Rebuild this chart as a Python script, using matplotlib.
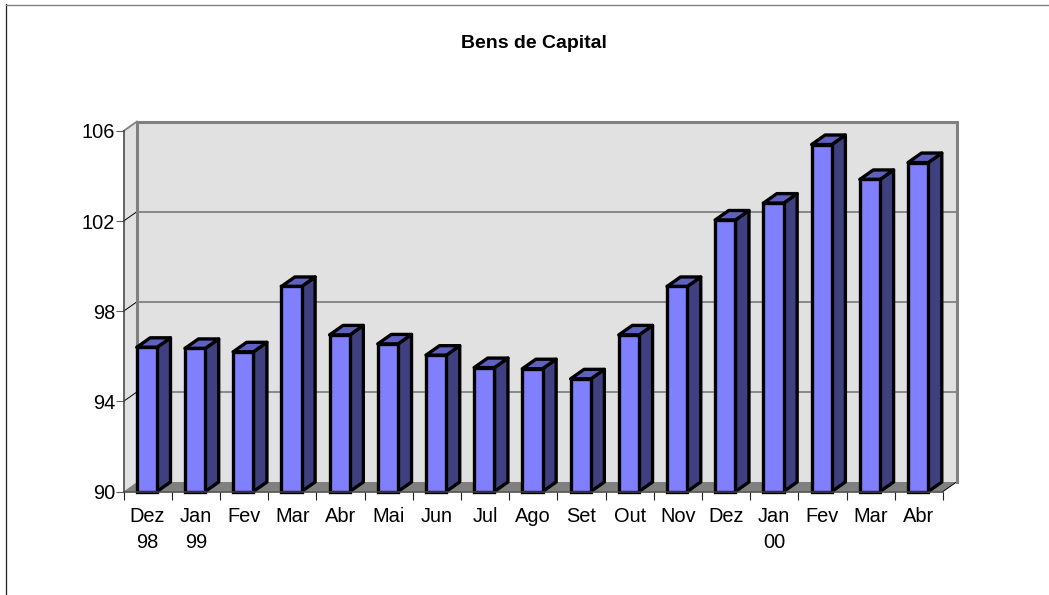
import matplotlib
matplotlib.use("Agg")
import matplotlib.pyplot as plt
from matplotlib.patches import Polygon
from matplotlib.lines import Line2D

plt.rcParams['font.family'] = ['Liberation Sans', 'DejaVu Sans']

labels = ['Dez\n98', 'Jan\n99', 'Fev', 'Mar', 'Abr', 'Mai', 'Jun', 'Jul', 'Ago', 'Set',
          'Out', 'Nov', 'Dez', 'Jan\n00', 'Fev', 'Mar', 'Abr']
values = [96.4, 96.35, 96.2, 99.1, 96.95, 96.55, 96.05, 95.5, 95.45, 95.0,
          96.95, 99.1, 102.05, 102.8, 105.4, 103.85, 104.6]
yticks = [90, 94, 98, 102, 106]

W, H = 1049, 595
fig = plt.figure(figsize=(W / 100, H / 100), dpi=100)

# frame of the chart area
fig.add_artist(Line2D([6 / W, 6 / W], [0, 1 - 4 / H], color='#202020', lw=0.9))
fig.add_artist(Line2D([6 / W, 1], [1 - 4.5 / H, 1 - 4.5 / H], color='#808080', lw=1.0))

# axes = the front plane of the 3d box
left, right, top, bottom = 123.5, 943, 131, 491.5
ax = fig.add_axes([left / W, 1 - bottom / H, (right - left) / W, (bottom - top) / H])
ax.set_xlim(0, len(values))
ax.set_ylim(90, 106)
ax.patch.set_visible(False)

# depth of the box in data units
dx = 13.5 / ((right - left) / len(values))
dy = 9.5 / ((bottom - top) / 16)
n = len(values)

# walls
ax.add_patch(Polygon([(dx, 90 + dy), (n + dx, 90 + dy), (n + dx, 106 + dy), (dx, 106 + dy)],
                     fc='#E1E1E1', ec='none', clip_on=False, zorder=1))
ax.add_patch(Polygon([(0, 90), (dx, 90 + dy), (dx, 106 + dy), (0, 106)],
                     fc='#E1E1E1', ec='none', clip_on=False, zorder=1))
ax.add_patch(Polygon([(0, 90), (n, 90), (n + dx, 90 + dy), (dx, 90 + dy)],
                     fc='#808080', ec='none', clip_on=False, zorder=1.5))

# gridlines run round the left wall and along the back
for v in yticks[1:-1]:
    ax.plot([0, dx], [v, v + dy], color='black', lw=0.7, clip_on=False, zorder=2)
    ax.plot([dx, n + dx], [v + dy, v + dy], color='#707070', lw=1.1, clip_on=False, zorder=2)
ax.plot([0, dx], [106, 106 + dy], color='#808080', lw=1.3, clip_on=False, zorder=2)
ax.plot([n, n + dx], [90, 90 + dy], color='black', lw=0.7, clip_on=False, zorder=2)
ax.plot([dx, dx, n + dx, n + dx], [90 + dy, 106 + dy, 106 + dy, 90 + dy],
        color='#808080', lw=2.2, clip_on=False, zorder=2, solid_joinstyle='miter')

# bars
bw = 0.42
edge = 2.4
for i, v in enumerate(values):
    x = i + 0.485
    x0, x1 = x - bw / 2, x + bw / 2
    ax.add_patch(Polygon([(x1, 90), (x1 + dx, 90 + dy), (x1 + dx, v + dy), (x1, v)],
                         fc='#404080', ec='black', lw=edge, clip_on=False, zorder=3,
                         joinstyle='round'))
    ax.add_patch(Polygon([(x0, v), (x1, v), (x1 + dx, v + dy), (x0 + dx, v + dy)],
                         fc='#6060C0', ec='black', lw=edge, clip_on=False, zorder=3,
                         joinstyle='round'))
    ax.bar(x, v - 90, bw, bottom=90, color='#8080FF', edgecolor='black', lw=edge,
           clip_on=False, zorder=4)

for s in ('top', 'right'):
    ax.spines[s].set_visible(False)
for s in ('left', 'bottom'):
    ax.spines[s].set_color('#404040')
    ax.spines[s].set_linewidth(1.1)
    ax.spines[s].set_zorder(5)

ax.set_yticks(yticks)
ax.set_xticks(range(n + 1))
ax.set_xticklabels([])
ax.set_xticks([i + 0.5 for i in range(n)], labels, minor=True, linespacing=1.45)
ax.tick_params(axis='x', which='major', length=6, width=0.8, color='#202020')
ax.tick_params(axis='x', which='minor', length=0, pad=11, labelsize=14.4)
ax.tick_params(axis='y', length=6, width=0.8, color='#606060', labelsize=14.4, pad=0)

fig.text(533.5 / W, 1 - 43.5 / H, 'Bens de Capital', ha='center', va='center',
         fontsize=14, fontweight='bold')

fig.savefig('out.png', dpi=100)
